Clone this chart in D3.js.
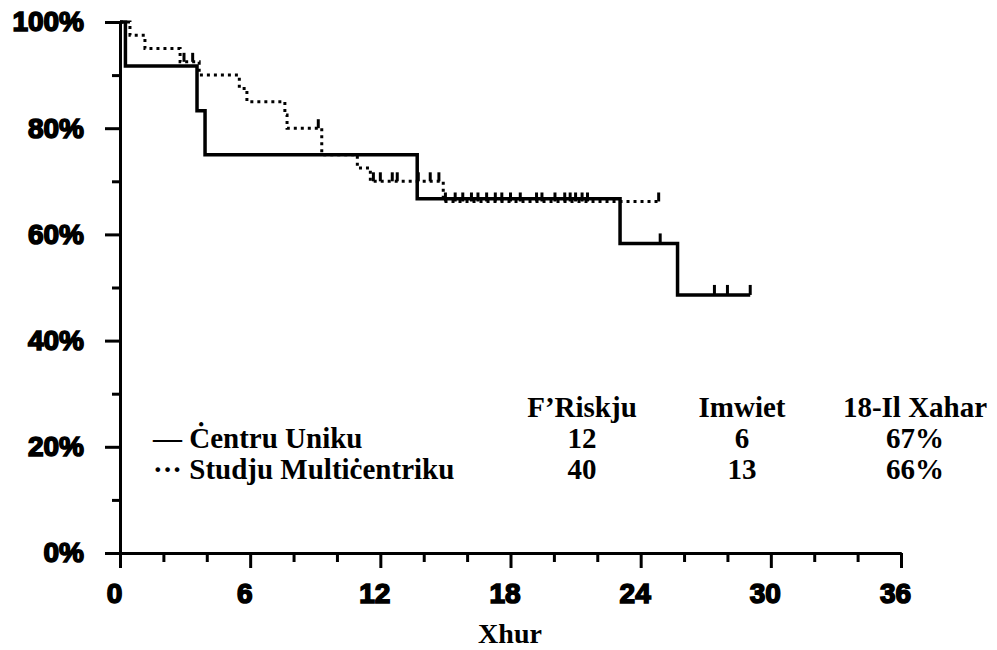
<!DOCTYPE html>
<html>
<head>
<meta charset="utf-8">
<script src="https://cdn.jsdelivr.net/npm/d3@7"></script>
<style>
  body { margin: 0; background: #fff; }
  .tick text { font-family: "Liberation Sans", Arial, sans-serif; font-weight: bold; font-size: 28px; fill: #000; stroke: #000; stroke-width: 1.6px; }
  .lbl { font-family: "Liberation Serif", "Times New Roman", serif; font-weight: bold; fill: #000; }
</style>
</head>
<body>
<div id="chart"></div>
<script>
// Centru Uniku (solid)
var solidTimes = [0, 0.25, 3.55, 3.92, 13.7, 23.05, 25.7];
var solidSurv = [100, 91.7, 83.3, 75, 66.7, 58.3, 48.6];
var solidEnd = 29.05;
var solidCensors = [24.9, 27.4, 28.0, 29.05];

// Studju Multicentriku (dotted)
var multiTimes = [0, 0.46, 1.15, 2.77, 3.65, 5.5, 5.85, 7.6, 7.7, 9.3, 10.94, 11.54, 14.9];
var multiSurv = [100, 97.5, 95, 92.5, 90, 87.5, 85, 82.5, 80, 75, 72.5, 70, 66.2];
var multiEnd = 24.83;
var multiCensors = [2.95, 3.35, 9.14, 11.68, 12.0, 12.55, 12.78, 13.75, 14.3, 14.7,
  15.0, 15.45, 15.8, 16.2, 16.5, 16.9, 17.3, 17.6, 18.0, 18.45, 19.2, 19.45,
  20.05, 20.5, 20.75, 21.0, 21.3, 21.55, 24.83];

var xMajor = [0, 6, 12, 18, 24, 30, 36];
var xMinor = [2, 4, 8, 10, 14, 16, 20, 22, 26, 28, 32, 34];
var yMajor = [0, 20, 40, 60, 80, 100];
var yMinor = [10, 30, 50, 70, 90];

var headers = ['F\u2019Riskju', 'Imwiet', '18-Il Xahar'];
var groupNames = ['\u2014 \u010aentru Uniku', '\u00b7\u00b7\u00b7 Studju Multi\u010bentriku'];
var atRisk = ['12', '40'];
var deaths = ['6', '13'];
var at18 = ['67%', '66%'];

var width = 997, height = 650;
var x = d3.scaleLinear().domain([0, 36]).range([120, 901]);
var y = d3.scaleLinear().domain([0, 100]).range([553, 22]);

var svg = d3.select('#chart').append('svg')
  .attr('width', width)
  .attr('height', height);

// axes
function styleAxis(g) {
  g.selectAll('path, line').attr('stroke', '#000').attr('stroke-width', 3);
}

svg.append('g')
  .attr('transform', 'translate(0,' + y(0) + ')')
  .call(d3.axisBottom(x).tickValues(xMinor).tickSize(9).tickSizeOuter(0).tickFormat(''))
  .call(styleAxis);
svg.append('g')
  .attr('transform', 'translate(0,' + y(0) + ')')
  .call(d3.axisBottom(x).tickValues(xMajor).tickSize(15).tickSizeOuter(0).tickPadding(15))
  .call(styleAxis)
  .call(function(g) { g.selectAll('.tick text').attr('dx', -6); });

svg.append('g')
  .attr('transform', 'translate(' + x(0) + ',0)')
  .call(d3.axisLeft(y).tickValues(yMinor).tickSize(8).tickSizeOuter(0).tickFormat(''))
  .call(styleAxis);
svg.append('g')
  .attr('transform', 'translate(' + x(0) + ',0)')
  .call(d3.axisLeft(y).tickValues(yMajor).tickSize(15).tickSizeOuter(0).tickPadding(21)
    .tickFormat(function(d) { return d + '%'; }))
  .call(styleAxis);

// curves
function steps(times, surv, end) {
  var pts = times.map(function(t, i) { return [t, surv[i]]; });
  pts.push([end, surv[surv.length - 1]]);
  return pts;
}
function survAt(times, surv, t) {
  var s = surv[0];
  times.forEach(function(tt, i) { if (tt <= t) s = surv[i]; });
  return s;
}

var line = d3.line()
  .x(function(d) { return x(d[0]); })
  .y(function(d) { return y(d[1]); })
  .curve(d3.curveStepAfter);

svg.append('path')
  .datum(steps(multiTimes, multiSurv, multiEnd))
  .attr('d', line)
  .attr('fill', 'none')
  .attr('stroke', '#000')
  .attr('stroke-width', 3)
  .attr('stroke-dasharray', '3,4');

svg.append('path')
  .datum(steps(solidTimes, solidSurv, solidEnd))
  .attr('d', line)
  .attr('fill', 'none')
  .attr('stroke', '#000')
  .attr('stroke-width', 3.5);

svg.selectAll('.cm').data(multiCensors).enter().append('line')
  .attr('x1', function(d) { return x(d); })
  .attr('x2', function(d) { return x(d); })
  .attr('y1', function(d) { return y(survAt(multiTimes, multiSurv, d)); })
  .attr('y2', function(d) { return y(survAt(multiTimes, multiSurv, d)) - 9; })
  .attr('stroke', '#000').attr('stroke-width', 3);

svg.selectAll('.cs').data(solidCensors).enter().append('line')
  .attr('x1', function(d) { return x(d); })
  .attr('x2', function(d) { return x(d); })
  .attr('y1', function(d) { return y(survAt(solidTimes, solidSurv, d)); })
  .attr('y2', function(d) { return y(survAt(solidTimes, solidSurv, d)) - 10; })
  .attr('stroke', '#000').attr('stroke-width', 3);

// x title
svg.append('text').attr('class', 'lbl')
  .attr('x', 510).attr('y', 643)
  .attr('text-anchor', 'middle')
  .style('font-size', '28px')
  .text('Xhur');

// legend table
var colX = [582, 742, 915];
var rowY = [417, 448, 479];
var legend = svg.append('g').attr('class', 'lbl').style('font-size', '29px');

legend.selectAll('.hdr').data(headers).enter().append('text')
  .attr('x', function(d, i) { return colX[i]; })
  .attr('y', rowY[0])
  .attr('text-anchor', 'middle')
  .text(function(d) { return d; });

groupNames.forEach(function(name, i) {
  legend.append('text').attr('x', 153).attr('y', rowY[i + 1]).text(name);
  [atRisk[i], deaths[i], at18[i]].forEach(function(v, j) {
    legend.append('text')
      .attr('x', colX[j]).attr('y', rowY[i + 1])
      .attr('text-anchor', 'middle')
      .text(v);
  });
});
</script>
</body>
</html>
